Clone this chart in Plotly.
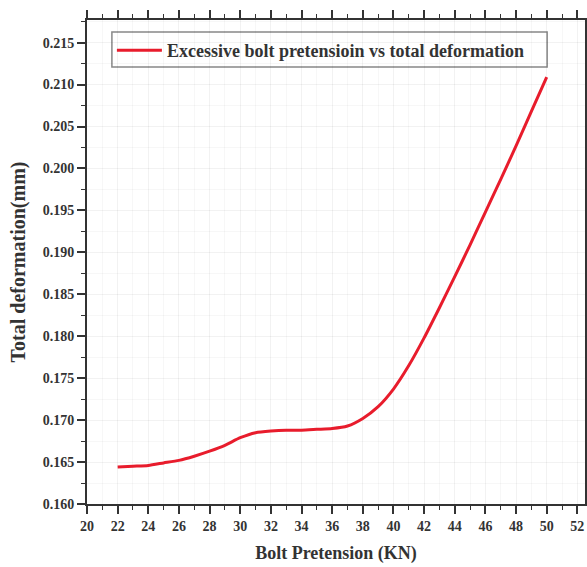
import plotly.graph_objects as go

# Bolt pretension (kN) and resulting total deformation (mm)
pretension = [22, 23, 24, 25, 26, 27, 28, 29, 30, 31, 32, 33, 34, 35, 36,
              37, 38, 39, 40, 41, 42, 43, 44, 45, 46, 47, 48, 49, 50]
deformation = [0.1644, 0.1645, 0.1646, 0.1649, 0.1652, 0.1657, 0.1663, 0.1670,
               0.1679, 0.1685, 0.1687, 0.1688, 0.1688, 0.1689, 0.1690, 0.1693,
               0.1702, 0.1716, 0.1737, 0.1765, 0.1798, 0.1834, 0.1871, 0.1909,
               0.1948, 0.1987, 0.2027, 0.2068, 0.2109]
series_name = "Excessive bolt pretensioin vs total deformation"

SERIF = "Liberation Serif, Times New Roman, serif"
INK = "#333333"

fig = go.Figure()
fig.add_trace(go.Scatter(
    x=pretension, y=deformation, mode="lines", name=series_name,
    line=dict(color="rgb(232,28,44)", width=3, shape="spline", smoothing=0.6),
))

axis_common = dict(
    showline=True, linecolor=INK, linewidth=2, mirror="ticks",
    ticks="outside", ticklen=8, tickwidth=1.5, tickcolor=INK,
    showgrid=True, gridcolor="rgba(0,0,0,0.05)", gridwidth=1,
    zeroline=False,
    tickfont=dict(family=SERIF, size=14, color=INK, weight="bold"),
)

fig.update_xaxes(
    **axis_common,
    range=[20, 52.5], tick0=20, dtick=2,
    minor=dict(ticks="outside", ticklen=4, tickwidth=1.2, tickcolor=INK,
               dtick=1, showgrid=True, gridcolor="rgba(0,0,0,0.03)"),
    title=dict(text="Bolt Pretension (KN)", standoff=14,
               font=dict(family=SERIF, size=18, color=INK, weight="bold")),
)
fig.update_yaxes(
    **axis_common,
    range=[0.160, 0.2177], tick0=0.160, dtick=0.005, tickformat=".3f",
    minor=dict(ticks="outside", ticklen=4, tickwidth=1.2, tickcolor=INK,
               dtick=0.0025, showgrid=True, gridcolor="rgba(0,0,0,0.03)"),
    title=dict(text="Total deformation(mm)", standoff=12,
               font=dict(family=SERIF, size=20, color=INK, weight="bold")),
)
fig.update_yaxes(mirror=True)

# framed legend panel, drawn as a paper-space rectangle behind the legend
fig.add_shape(
    type="rect", xref="paper", yref="paper",
    x0=0.050, x1=0.924, y0=0.903, y1=0.975,
    line=dict(color="#888888", width=1.5), fillcolor="white", layer="below",
)

fig.update_layout(
    width=587, height=567,
    margin=dict(l=87, r=2, t=20, b=63, autoexpand=False),
    paper_bgcolor="white", plot_bgcolor="white",
    showlegend=True,
    legend=dict(
        x=0.05, y=0.975, xanchor="left", yanchor="top",
        bgcolor="rgba(0,0,0,0)", borderwidth=0,
        font=dict(family=SERIF, size=18, color=INK, weight="bold"),
        itemwidth=45,
    ),
)

fig.write_html("out.html")
